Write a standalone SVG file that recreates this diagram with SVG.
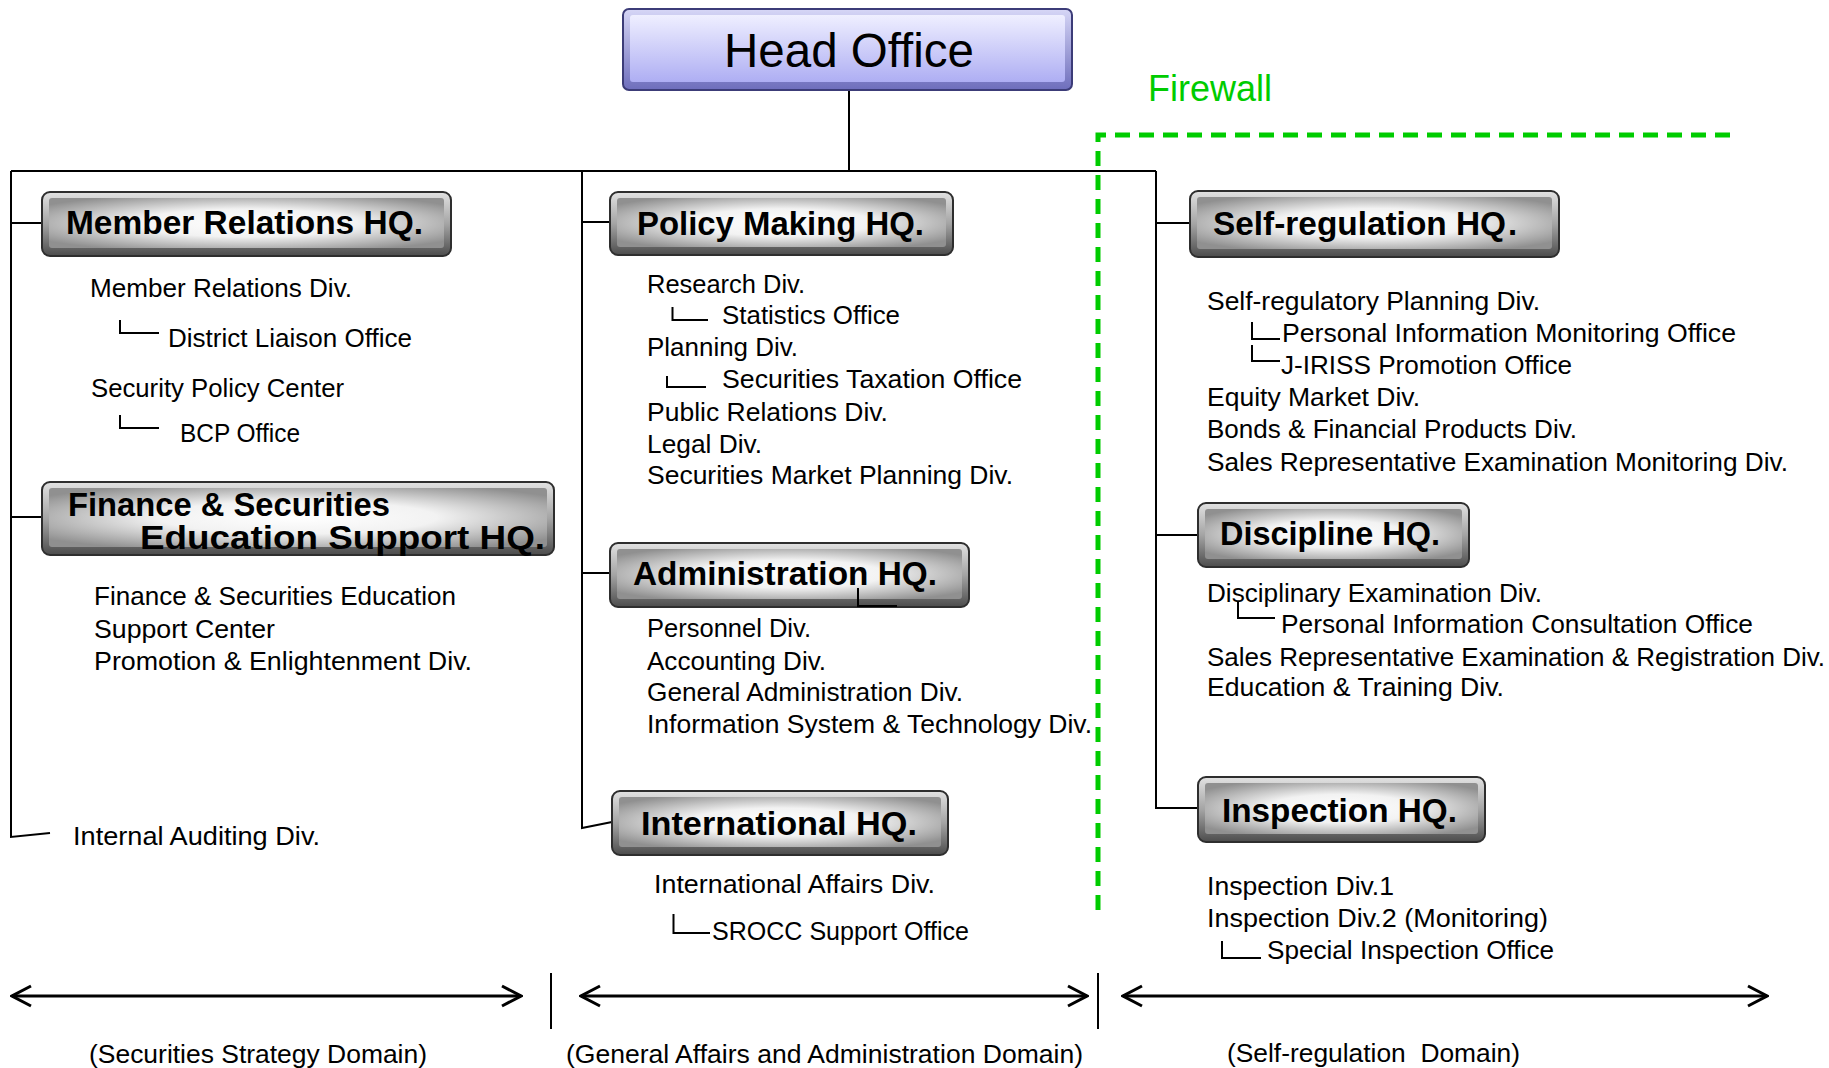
<svg xmlns="http://www.w3.org/2000/svg" width="1829" height="1068" viewBox="0 0 1829 1068">
  <style>
    .t { font-family: "Liberation Sans", Arial, sans-serif; font-size: 26px; fill: #000; }
    .hqt { font-family: "Liberation Sans", Arial, sans-serif; font-weight: bold; font-size: 33px; fill: #000; }
    .dom { font-family: "Liberation Sans", Arial, sans-serif; font-size: 26.5px; fill: #000; }
    .frame { fill: url(#bevel); stroke: #2e2e2e; stroke-width: 2; }
    .face { fill: url(#face); }
    .ln { fill: none; stroke: #000; stroke-width: 2; }
    .tick { fill: none; stroke: #000; stroke-width: 2; }
    .arrow { fill: none; stroke: #000; stroke-width: 3; marker-start: url(#head); marker-end: url(#head); }
    .fw { fill: none; stroke: #00cc00; stroke-width: 5; stroke-dasharray: 15 9; }
  </style>
  <defs>
    <linearGradient id="bevel" x1="0" y1="0" x2="0" y2="1">
      <stop offset="0" stop-color="#e2e2e2"/>
      <stop offset="0.5" stop-color="#a4a4a4"/>
      <stop offset="1" stop-color="#4c4c4c"/>
    </linearGradient>
    <radialGradient id="face" cx="0.5" cy="0.5" r="0.62">
      <stop offset="0" stop-color="#ffffff"/>
      <stop offset="0.45" stop-color="#f2f2f2"/>
      <stop offset="1" stop-color="#909090"/>
    </radialGradient>
    <linearGradient id="hoBevel" x1="0" y1="0" x2="0" y2="1">
      <stop offset="0" stop-color="#d6d6f6"/>
      <stop offset="1" stop-color="#6e6ebc"/>
    </linearGradient>
    <linearGradient id="hoFace" x1="0" y1="0" x2="0" y2="1">
      <stop offset="0" stop-color="#efefff"/>
      <stop offset="1" stop-color="#aeaef3"/>
    </linearGradient>
    <marker id="head" viewBox="-22 -12 24 24" refX="0" refY="0" markerWidth="24" markerHeight="24" markerUnits="userSpaceOnUse" orient="auto-start-reverse">
      <path d="M-19,-10 L0,0 L-19,10" fill="none" stroke="#000" stroke-width="3"/>
    </marker>
  </defs>

  <rect width="1829" height="1068" fill="#fff"/>

  <!-- organisation lines -->
  <g id="connectors">
    <path class="ln" d="M849,90 V171"/>
    <path class="ln" d="M11,171 H1156"/>
    <path class="ln" d="M11,171 V837 L50,833"/>
    <path class="ln" d="M11,223 H42"/>
    <path class="ln" d="M11,517 H42"/>
    <path class="ln" d="M582,171 V828 L612,822"/>
    <path class="ln" d="M582,222 H610"/>
    <path class="ln" d="M582,573 H610"/>
    <path class="ln" d="M1156,171 V808 H1198"/>
    <path class="ln" d="M1156,223 H1190"/>
    <path class="ln" d="M1156,535 H1198"/>
  </g>

  <!-- firewall boundary -->
  <g id="firewall">
    <path class="fw" d="M1098,910 V135 H1735"/>
    <text x="1148" y="101" font-family="Liberation Sans, Arial, sans-serif" font-size="36" fill="#00cc00">Firewall</text>
  </g>

  <g id="head-office">
    <rect x="623" y="9" width="449" height="81" rx="6" fill="url(#hoBevel)" stroke="#3c3c78" stroke-width="2"/>
    <rect x="630" y="15" width="435" height="67" rx="3" fill="url(#hoFace)"/>
    <text x="849" y="67" text-anchor="middle" font-family="Liberation Sans, Arial, sans-serif" font-size="47.5" fill="#000">Head Office</text>
  </g>

  <!-- securities strategy column -->
  <g id="member-relations-hq">
    <rect class="frame" x="42" y="192" width="409" height="64" rx="8"/>
    <rect class="face" x="49" y="198" width="395" height="50" rx="3"/>
    <text class="hqt" x="66" y="234" textLength="357" lengthAdjust="spacingAndGlyphs">Member Relations HQ.</text>
    <text class="t" x="90" y="297" textLength="262" lengthAdjust="spacingAndGlyphs">Member Relations Div.</text>
    <path class="tick" d="M120,320 V333 H159"/>
    <text class="t" x="168" y="347" textLength="244" lengthAdjust="spacingAndGlyphs">District Liaison Office</text>
    <text class="t" x="91" y="397" textLength="253" lengthAdjust="spacingAndGlyphs">Security Policy Center</text>
    <path class="tick" d="M120,415 V428 H159"/>
    <text class="t" x="180" y="442" textLength="120" lengthAdjust="spacingAndGlyphs">BCP Office</text>
  </g>

  <g id="finance-education-hq">
    <rect class="frame" x="42" y="482" width="512" height="73" rx="8"/>
    <rect class="face" x="49" y="488" width="498" height="59" rx="3"/>
    <text class="hqt" x="68" y="516" font-size="27" textLength="322" lengthAdjust="spacingAndGlyphs">Finance &amp; Securities</text>
    <text class="hqt" x="140" y="549" font-size="27" textLength="405" lengthAdjust="spacingAndGlyphs">Education Support HQ.</text>
    <text class="t" x="94" y="605" textLength="362" lengthAdjust="spacingAndGlyphs">Finance &amp; Securities Education</text>
    <text class="t" x="94" y="638" textLength="181" lengthAdjust="spacingAndGlyphs">Support Center</text>
    <text class="t" x="94" y="670" textLength="378" lengthAdjust="spacingAndGlyphs">Promotion &amp; Enlightenment Div.</text>
  </g>

  <g id="internal-auditing">
    <text class="t" x="73" y="845" textLength="247" lengthAdjust="spacingAndGlyphs">Internal Auditing Div.</text>
  </g>

  <!-- general affairs column -->
  <g id="policy-making-hq">
    <rect class="frame" x="610" y="192" width="343" height="63" rx="8"/>
    <rect class="face" x="617" y="198" width="329" height="49" rx="3"/>
    <text class="hqt" x="637" y="235" textLength="287" lengthAdjust="spacingAndGlyphs">Policy Making HQ.</text>
    <text class="t" x="647" y="293" textLength="158" lengthAdjust="spacingAndGlyphs">Research Div.</text>
    <path class="tick" d="M672.5,307 V320 H708"/>
    <text class="t" x="722" y="324" textLength="178" lengthAdjust="spacingAndGlyphs">Statistics Office</text>
    <text class="t" x="647" y="356" textLength="151" lengthAdjust="spacingAndGlyphs">Planning Div.</text>
    <path class="tick" d="M667,376 V387 H706"/>
    <text class="t" x="722" y="388" textLength="300" lengthAdjust="spacingAndGlyphs">Securities Taxation Office</text>
    <text class="t" x="647" y="421" textLength="241" lengthAdjust="spacingAndGlyphs">Public Relations Div.</text>
    <text class="t" x="647" y="453" textLength="115" lengthAdjust="spacingAndGlyphs">Legal Div.</text>
    <text class="t" x="647" y="484" textLength="366" lengthAdjust="spacingAndGlyphs">Securities Market Planning Div.</text>
  </g>

  <g id="administration-hq">
    <rect class="frame" x="610" y="543" width="359" height="64" rx="8"/>
    <rect class="face" x="617" y="549" width="345" height="50" rx="3"/>
    <text class="hqt" x="633" y="585" textLength="304" lengthAdjust="spacingAndGlyphs">Administration HQ.</text>
    <path class="tick" d="M858,588 V606 H897"/>
    <text class="t" x="647" y="637" textLength="164" lengthAdjust="spacingAndGlyphs">Personnel Div.</text>
    <text class="t" x="647" y="670" textLength="179" lengthAdjust="spacingAndGlyphs">Accounting Div.</text>
    <text class="t" x="647" y="701" textLength="316" lengthAdjust="spacingAndGlyphs">General Administration Div.</text>
    <text class="t" x="647" y="733" textLength="445" lengthAdjust="spacingAndGlyphs">Information System &amp; Technology Div.</text>
  </g>

  <g id="international-hq">
    <rect class="frame" x="612" y="791" width="336" height="64" rx="8"/>
    <rect class="face" x="619" y="797" width="322" height="50" rx="3"/>
    <text class="hqt" x="641" y="835" textLength="276" lengthAdjust="spacingAndGlyphs">International HQ.</text>
    <text class="t" x="654" y="893" textLength="281" lengthAdjust="spacingAndGlyphs">International Affairs Div.</text>
    <path class="tick" d="M673.5,914 V933 H710"/>
    <text class="t" x="712" y="940" textLength="257" lengthAdjust="spacingAndGlyphs">SROCC Support Office</text>
  </g>

  <!-- self-regulation column -->
  <g id="self-regulation-hq">
    <rect class="frame" x="1190" y="191" width="369" height="66" rx="8"/>
    <rect class="face" x="1197" y="197" width="355" height="52" rx="3"/>
    <text class="hqt" x="1213" y="235" textLength="293" lengthAdjust="spacingAndGlyphs">Self-regulation HQ</text>
    <text class="hqt" x="1508" y="235" font-size="15">.</text>
    <text class="t" x="1207" y="310" textLength="333" lengthAdjust="spacingAndGlyphs">Self-regulatory Planning Div.</text>
    <path class="tick" d="M1252,322 V339 H1280"/>
    <text class="t" x="1282" y="342" textLength="454" lengthAdjust="spacingAndGlyphs">Personal Information Monitoring Office</text>
    <path class="tick" d="M1252,345 V361 H1280"/>
    <text class="t" x="1281" y="374" textLength="291" lengthAdjust="spacingAndGlyphs">J-IRISS Promotion Office</text>
    <text class="t" x="1207" y="406" textLength="213" lengthAdjust="spacingAndGlyphs">Equity Market Div.</text>
    <text class="t" x="1207" y="438" textLength="370" lengthAdjust="spacingAndGlyphs">Bonds &amp; Financial Products Div.</text>
    <text class="t" x="1207" y="471" textLength="581" lengthAdjust="spacingAndGlyphs">Sales Representative Examination Monitoring Div.</text>
  </g>

  <g id="discipline-hq">
    <rect class="frame" x="1198" y="503" width="271" height="64" rx="8"/>
    <rect class="face" x="1205" y="509" width="257" height="50" rx="3"/>
    <text class="hqt" x="1220" y="545" textLength="220" lengthAdjust="spacingAndGlyphs">Discipline HQ.</text>
    <text class="t" x="1207" y="602" textLength="335" lengthAdjust="spacingAndGlyphs">Disciplinary Examination Div.</text>
    <path class="tick" d="M1238,602 V618 H1275"/>
    <text class="t" x="1281" y="633" textLength="472" lengthAdjust="spacingAndGlyphs">Personal Information Consultation Office</text>
    <text class="t" x="1207" y="666" textLength="618" lengthAdjust="spacingAndGlyphs">Sales Representative Examination &amp; Registration Div.</text>
    <text class="t" x="1207" y="696" textLength="297" lengthAdjust="spacingAndGlyphs">Education &amp; Training Div.</text>
  </g>

  <g id="inspection-hq">
    <rect class="frame" x="1198" y="777" width="287" height="65" rx="8"/>
    <rect class="face" x="1205" y="783" width="273" height="51" rx="3"/>
    <text class="hqt" x="1222" y="822" textLength="235" lengthAdjust="spacingAndGlyphs">Inspection HQ.</text>
    <text class="t" x="1207" y="895" textLength="187" lengthAdjust="spacingAndGlyphs">Inspection Div.1</text>
    <text class="t" x="1207" y="927" textLength="341" lengthAdjust="spacingAndGlyphs">Inspection Div.2 (Monitoring)</text>
    <path class="tick" d="M1222,941 V958 H1261"/>
    <text class="t" x="1267" y="959" textLength="287" lengthAdjust="spacingAndGlyphs">Special Inspection Office</text>
  </g>

  <!-- domain spans -->
  <g id="domains">
    <path class="arrow" d="M12,996 H521"/>
    <path class="arrow" d="M581,996 H1087"/>
    <path class="arrow" d="M1123,996 H1767"/>
    <path class="ln" d="M551,973 V1029"/>
    <path class="ln" d="M1098,973 V1029"/>
    <text class="dom" x="89" y="1063" textLength="338" lengthAdjust="spacingAndGlyphs">(Securities Strategy Domain)</text>
    <text class="dom" x="566" y="1063" textLength="517" lengthAdjust="spacingAndGlyphs">(General Affairs and Administration Domain)</text>
    <text class="dom" x="1227" y="1062" textLength="293" lengthAdjust="spacingAndGlyphs">(Self-regulation&#160; Domain)</text>
  </g>
</svg>
